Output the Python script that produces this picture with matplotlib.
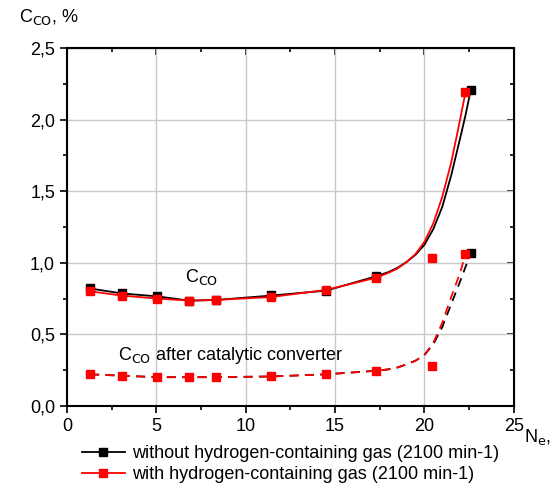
import matplotlib.pyplot as plt
from matplotlib.ticker import MultipleLocator, FuncFormatter

plt.rcParams['font.family'] = ['Liberation Sans', 'DejaVu Sans']

# measured points
n_e = [1.3, 3.1, 5.05, 6.85, 8.35, 11.4, 14.5, 17.3]
co_without = [0.82, 0.785, 0.77, 0.73, 0.74, 0.775, 0.80, 0.91]
co_with = [0.80, 0.77, 0.75, 0.735, 0.74, 0.76, 0.81, 0.895]
co_cat_with = [0.22, 0.21, 0.20, 0.20, 0.20, 0.205, 0.22, 0.245]

# last points at full load
n_last_without = 22.6
n_last_with = 22.3
co_last_without = 2.21
co_last_with = 2.19
co_cat_last_without = 1.07
co_cat_last_with = 1.06

# extra scattered red points at 20.4
n_extra = [20.4, 20.4]
co_extra = [1.03, 0.275]

# fitted curves
fit_x_without = [1.3, 3.1, 5.05, 6.85, 8.35, 11.4, 14.5, 17.3, 18.0, 18.5, 19.0, 19.5, 20.0,
                 20.5, 21.0, 21.5, 22.0, 22.3, 22.6]
fit_y_without = [0.82, 0.785, 0.765, 0.735, 0.74, 0.77, 0.805, 0.905, 0.935, 0.965, 1.005, 1.055,
                 1.125, 1.235, 1.39, 1.61, 1.87, 2.03, 2.21]
fit_x_with = [1.3, 3.1, 5.05, 6.85, 8.35, 11.4, 14.5, 17.3, 18.0, 18.5, 19.0, 19.5, 20.0,
              20.5, 21.0, 21.5, 21.9, 22.3]
fit_y_with = [0.80, 0.77, 0.75, 0.735, 0.74, 0.76, 0.81, 0.895, 0.93, 0.96, 1.005, 1.06,
              1.145, 1.275, 1.46, 1.70, 1.94, 2.19]
fitc_x_without = [1.3, 5.05, 8.35, 11.4, 14.5, 17.3, 18.0, 18.5, 19.0, 19.5, 20.0, 20.5,
                  21.0, 21.5, 22.0, 22.6]
fitc_y_without = [0.22, 0.20, 0.20, 0.205, 0.22, 0.245, 0.255, 0.268, 0.29, 0.315, 0.355, 0.43,
                  0.55, 0.71, 0.87, 1.07]
fitc_x_with = [1.3, 5.05, 8.35, 11.4, 14.5, 17.3, 18.0, 18.5, 19.0, 19.5, 20.0, 20.5,
               21.0, 21.5, 22.0, 22.3]
fitc_y_with = [0.22, 0.20, 0.20, 0.205, 0.22, 0.245, 0.255, 0.268, 0.29, 0.315, 0.355, 0.44,
               0.58, 0.76, 0.93, 1.06]

red = '#ff0000'

fig = plt.figure(figsize=(5.53, 4.86), dpi=100)
ax = fig.add_axes([0.121, 0.165, 0.808, 0.736])

# curves
ax.plot(fit_x_without, fit_y_without, color='black', lw=1.3)
ax.plot(fit_x_with, fit_y_with, color=red, lw=1.3)
ax.plot(fitc_x_without, fitc_y_without, color='black', lw=1.3, ls=(0, (5, 3.5)))
ax.plot(fitc_x_with, fitc_y_with, color=red, lw=1.3, ls=(0, (5, 3.5)))

# markers
ms = 6
ax.plot(n_e + [n_last_without], co_without + [co_last_without], 's', color='black', ms=ms)
ax.plot(n_e + [n_last_with], co_with + [co_last_with], 's', color=red, ms=ms)
ax.plot([n_last_without], [co_cat_last_without], 's', color='black', ms=ms)
ax.plot(n_e + [n_last_with], co_cat_with + [co_cat_last_with], 's', color=red, ms=ms)
ax.plot(n_extra, co_extra, 's', color=red, ms=ms)

ax.set_xlim(0, 25)
ax.set_ylim(0, 2.5)
ax.xaxis.set_major_locator(MultipleLocator(5))
ax.xaxis.set_minor_locator(MultipleLocator(2.5))
ax.yaxis.set_major_locator(MultipleLocator(0.5))
ax.yaxis.set_minor_locator(MultipleLocator(0.25))
ax.yaxis.set_major_formatter(FuncFormatter(lambda v, p: f"{v:.1f}".replace('.', ',')))
ax.grid(True, which='major', color='#c8c8c8', lw=1)
ax.set_axisbelow(True)
ax.tick_params(which='major', direction='out', length=5, width=1.2, labelsize=13)
ax.tick_params(which='minor', direction='out', length=3, width=1.2)
for s in ax.spines.values():
    s.set_linewidth(1.5)

# inward ticks on top and right
top = ax.secondary_xaxis('top')
top.xaxis.set_major_locator(MultipleLocator(5))
top.xaxis.set_minor_locator(MultipleLocator(2.5))
top.tick_params(which='major', direction='in', length=5, width=1.2, labeltop=False)
top.tick_params(which='minor', direction='in', length=3, width=1.2)
right = ax.secondary_yaxis('right')
right.yaxis.set_major_locator(MultipleLocator(0.5))
right.yaxis.set_minor_locator(MultipleLocator(0.25))
right.tick_params(which='major', direction='in', length=5, width=1.2, labelright=False)
right.tick_params(which='minor', direction='in', length=3, width=1.2)

ax.text(6.6, 0.90, r'C$_{\mathrm{CO}}$', fontsize=13, va='center')
ax.text(2.85, 0.35, r'C$_{\mathrm{CO}}$ after catalytic converter', fontsize=13, va='center')

fig.text(0.035, 0.965, r'C$_{\mathrm{CO}}$, %', fontsize=13, va='center')
fig.text(0.948, 0.1, r'N$_{\mathrm{e}}$,', fontsize=13, va='center')

h1, = ax.plot([], [], '-s', color='black', ms=ms, lw=1.3)
h2, = ax.plot([], [], '-s', color=red, ms=ms, lw=1.3)
fig.legend([h1, h2],
           ['without hydrogen-containing gas (2100 min-1)',
            'with hydrogen-containing gas (2100 min-1)'],
           loc='lower left', bbox_to_anchor=(0.125, -0.02), frameon=False,
           fontsize=13, handlelength=2.4, handletextpad=0.4, labelspacing=0.2,
           borderpad=0.2)

fig.savefig('out.png', dpi=100)
